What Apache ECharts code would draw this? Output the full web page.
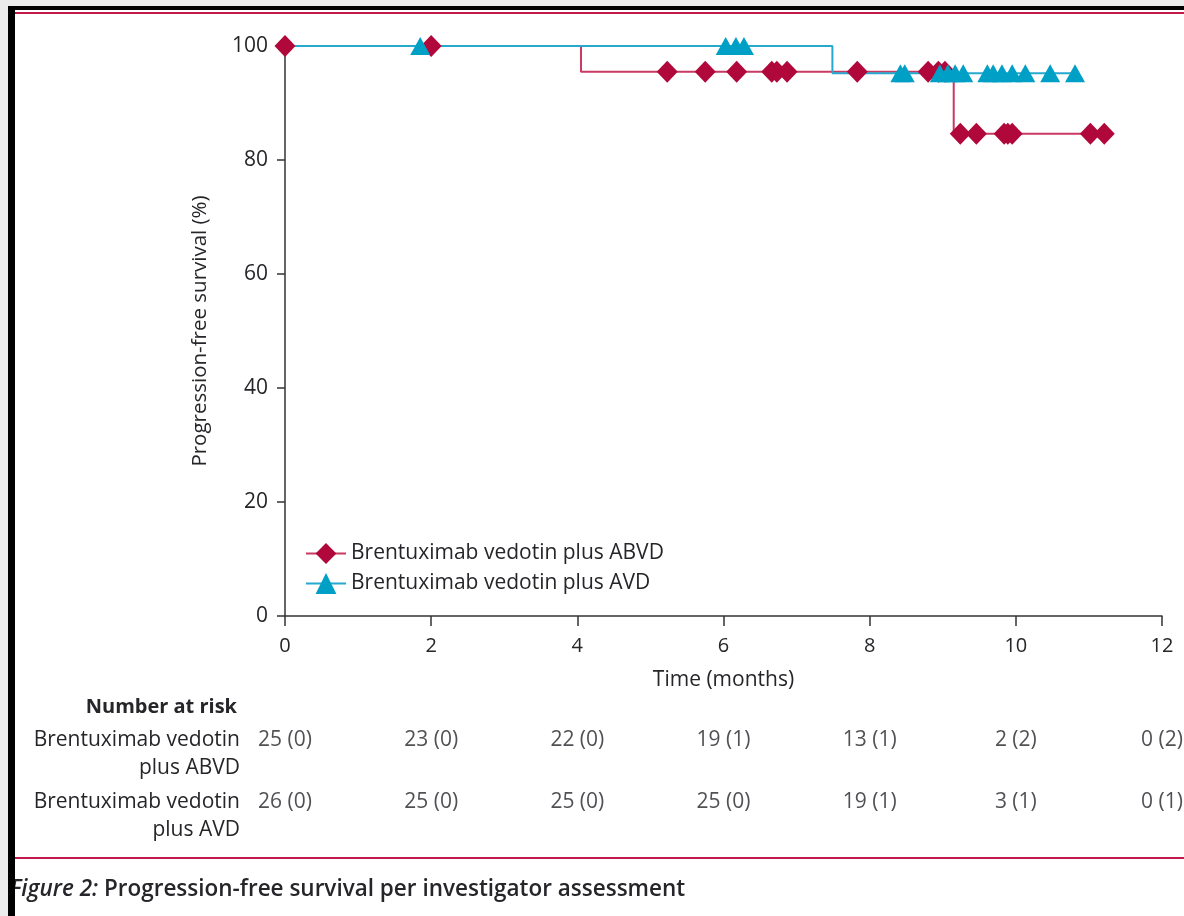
<!DOCTYPE html>
<html>
<head>
<meta charset="utf-8">
<script src="https://cdn.jsdelivr.net/npm/echarts@6/dist/echarts.min.js"></script>
<style>
html,body{margin:0;padding:0;background:#fff;}
#chart{width:1184px;height:916px;}
</style>
</head>
<body>
<div id="chart"></div>
<script>
// ---- Data ----
const xTicks = [0, 2, 4, 6, 8, 10, 12];
const yTicks = [0, 20, 40, 60, 80, 100];

// Kaplan-Meier step curves (time in months, survival in %)
const abvdStepTime = [0, 4.05, 9.15, 11.21];
const abvdStepPFS  = [100, 95.5, 84.6, 84.6];
const avdStepTime  = [0, 7.49, 10.81];
const avdStepPFS   = [100, 95.2, 95.2];

// Censor marks
const abvdCensorTime = [0, 2.0, 5.23, 5.75, 6.18, 6.66, 6.73, 6.87, 7.83, 8.80, 8.94, 9.03,
                        9.24, 9.46, 9.84, 9.89, 9.95, 11.02, 11.21];
const abvdCensorPFS  = [100, 100, 95.5, 95.5, 95.5, 95.5, 95.5, 95.5, 95.5, 95.5, 95.5, 95.5,
                        84.6, 84.6, 84.6, 84.6, 84.6, 84.6, 84.6];
const avdCensorTime  = [1.85, 6.03, 6.17, 6.28, 8.42, 8.48, 8.96, 9.07, 9.17, 9.28, 9.61, 9.69,
                        9.81, 9.95, 10.13, 10.47, 10.81];
const avdCensorPFS   = [100, 100, 100, 100, 95.2, 95.2, 95.2, 95.2, 95.2, 95.2, 95.2, 95.2,
                        95.2, 95.2, 95.2, 95.2, 95.2];

// Number at risk
const riskTimes = [0, 2, 4, 6, 8, 10, 12];
const abvdRisk = ['25 (0)', '23 (0)', '22 (0)', '19 (1)', '13 (1)', '2 (2)', '0 (2)'];
const avdRisk  = ['26 (0)', '25 (0)', '25 (0)', '25 (0)', '19 (1)', '3 (1)', '0 (1)'];

const seriesNames = ['Brentuximab vedotin plus ABVD', 'Brentuximab vedotin plus AVD'];
const riskRowLabels = ['Brentuximab vedotin\nplus AVD', 'Brentuximab vedotin\nplus ABVD'];

// ---- Styles ----
const FONT = 'Open Sans';
const TXT = '#26262a';
const RED_MARK = '#b0083a';
const RED_LINE = '#c93a62';
const BLUE_MARK = '#00a0c6';
const BLUE_LINE = '#27a9cf';
const FS = 21;

const zip = (a, b) => a.map((v, i) => [v, b[i]]);

const chart = echarts.init(document.getElementById('chart'), null, {renderer: 'canvas'});

const riskLabel = {
  show: true, position: 'inside', offset: [0, -14], formatter: p => p.value[2],
  fontFamily: FONT, fontSize: FS, color: TXT
};

const option = {
  backgroundColor: '#fff',
  animation: false,
  textStyle: {fontFamily: FONT, color: TXT},
  title: [
    {
      text: 'Number at risk',
      right: 1184 - 237, top: 697, padding: 0,
      textStyle: {fontFamily: FONT, fontSize: 20, fontWeight: 'bold', color: TXT}
    },
    {
      text: '{i|Figure 2:} Progression-free survival per investigator assessment',
      left: 10, top: 878, padding: 0,
      textStyle: {
        fontFamily: FONT, fontSize: 22.5, fontWeight: 600, color: TXT,
        rich: {i: {fontFamily: FONT, fontSize: 22.5, fontWeight: 600, fontStyle: 'italic', color: TXT}}
      }
    }
  ],
  legend: {
    data: seriesNames,
    orient: 'vertical',
    left: 305, top: 543, padding: 0,
    itemWidth: 40, itemHeight: 26, itemGap: 9,
    textStyle: {fontFamily: FONT, fontSize: FS, color: TXT}
  },
  grid: [
    {left: 285, right: 22, top: 46, height: 570, containLabel: false},
    {left: 285, right: 22, top: 723, height: 124, containLabel: false}
  ],
  xAxis: [
    {
      gridIndex: 0, type: 'value', min: 0, max: 12, interval: 2,
      name: 'Time (months)', nameLocation: 'middle', nameGap: 54,
      nameTextStyle: {fontFamily: FONT, fontSize: FS, color: TXT},
      axisLine: {show: true, onZero: false, lineStyle: {color: '#333', width: 1.5}},
      axisTick: {show: true, length: 10, lineStyle: {color: '#333', width: 1.5}},
      axisLabel: {margin: 20, fontFamily: FONT, fontSize: 20, color: TXT},
      splitLine: {show: false}
    },
    {
      gridIndex: 1, type: 'value', min: 0, max: 12, interval: 2, show: false
    }
  ],
  yAxis: [
    {
      gridIndex: 0, type: 'value', min: 0, max: 100, interval: 20,
      name: 'Progression-free survival (%)', nameLocation: 'middle', nameGap: 74,
      nameTextStyle: {fontFamily: FONT, fontSize: 20.5, color: TXT},
      axisLine: {show: true, onZero: false, lineStyle: {color: '#333', width: 1.5}},
      axisTick: {show: true, length: 8, lineStyle: {color: '#333', width: 1.5}},
      axisLabel: {margin: 17, fontFamily: FONT, fontSize: 21, color: TXT},
      splitLine: {show: false}
    },
    {
      gridIndex: 1, type: 'category', data: riskRowLabels,
      axisLine: {show: false}, axisTick: {show: false}, splitLine: {show: false},
      axisLabel: {
        interval: 0, hideOverlap: false,
        margin: 45, fontFamily: FONT, fontSize: FS, color: TXT,
        lineHeight: 28, align: 'right'
      }
    }
  ],
  series: [
    {
      name: seriesNames[0], type: 'line', step: 'end',
      xAxisIndex: 0, yAxisIndex: 0,
      data: zip(abvdStepTime, abvdStepPFS),
      showSymbol: false, symbol: 'diamond', symbolSize: 21,
      itemStyle: {color: RED_MARK},
      lineStyle: {color: RED_LINE, width: 2},
      z: 2
    },
    {
      name: seriesNames[1], type: 'line', step: 'end',
      xAxisIndex: 0, yAxisIndex: 0,
      data: zip(avdStepTime, avdStepPFS),
      showSymbol: false, symbol: 'triangle', symbolSize: [20, 18],
      itemStyle: {color: BLUE_MARK},
      lineStyle: {color: BLUE_LINE, width: 2},
      z: 2
    },
    {
      name: 'ABVD censored', type: 'scatter',
      xAxisIndex: 0, yAxisIndex: 0, clip: false,
      data: zip(abvdCensorTime, abvdCensorPFS),
      symbol: 'diamond', symbolSize: [21, 22],
      itemStyle: {color: RED_MARK, opacity: 1},
      z: 3
    },
    {
      name: 'AVD censored', type: 'scatter',
      xAxisIndex: 0, yAxisIndex: 0, clip: false,
      data: zip(avdCensorTime, avdCensorPFS),
      symbol: 'triangle', symbolSize: [20, 18],
      itemStyle: {color: BLUE_MARK, opacity: 1},
      z: 4
    },
    {
      name: 'risk ABVD', type: 'scatter',
      xAxisIndex: 1, yAxisIndex: 1, clip: false,
      data: riskTimes.map((t, i) => [t, riskRowLabels[1], abvdRisk[i]]),
      symbolSize: 1, itemStyle: {color: 'rgba(0,0,0,0)'},
      label: riskLabel
    },
    {
      name: 'risk AVD', type: 'scatter',
      xAxisIndex: 1, yAxisIndex: 1, clip: false,
      data: riskTimes.map((t, i) => [t, riskRowLabels[0], avdRisk[i]]),
      symbolSize: 1, itemStyle: {color: 'rgba(0,0,0,0)'},
      label: riskLabel
    }
  ],
  graphic: [
    {type: 'rect', z: 100, shape: {x: 0, y: 0, width: 1184, height: 6}, style: {fill: '#ececec'}, silent: true},
    {type: 'rect', z: 100, shape: {x: 0, y: 0, width: 8, height: 916}, style: {fill: '#ececec'}, silent: true},
    {type: 'rect', z: 100, shape: {x: 8, y: 6, width: 1176, height: 4}, style: {fill: '#000'}, silent: true},
    {type: 'rect', z: 100, shape: {x: 8, y: 6, width: 7, height: 910}, style: {fill: '#000'}, silent: true},
    {type: 'rect', z: 100, shape: {x: 15, y: 12, width: 1169, height: 2}, style: {fill: '#c2184a'}, silent: true},
    {type: 'rect', z: 100, shape: {x: 15, y: 857, width: 1169, height: 2}, style: {fill: '#c2184a'}, silent: true}
  ]
};

chart.setOption(option);
</script>
</body>
</html>
